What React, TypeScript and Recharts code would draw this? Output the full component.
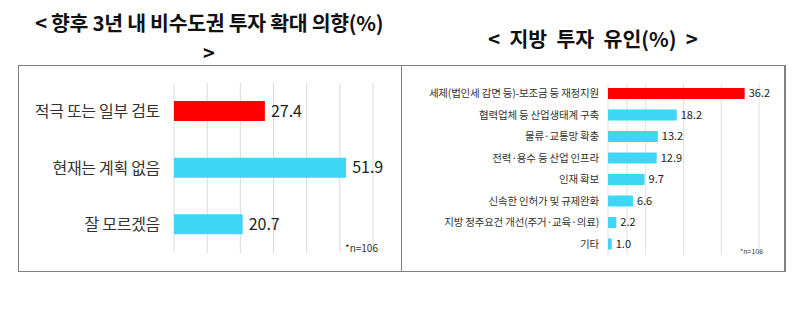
import { BarChart, Bar, XAxis, YAxis, CartesianGrid, Cell, LabelList } from "recharts";

const intentCategories = ["적극 또는 일부 검토", "현재는 계획 없음", "잘 모르겠음"];
const intentValues = [27.4, 51.9, 20.7];
const intentTicks = [0, 10, 20, 30, 40, 50, 60];

const factorCategories = [
  "세제(법인세 감면 등)-보조금 등 재정지원",
  "협력업체 등 산업생태계 구축",
  "물류·교통망 확충",
  "전력·용수 등 산업 인프라",
  "인재 확보",
  "신속한 인허가 및 규제완화",
  "지방 정주요건 개선(주거·교육·의료)",
  "기타",
];
const factorValues = [36.2, 18.2, 13.2, 12.9, 9.7, 6.6, 2.2, 1.0];
const factorTicks = [0, 5, 10, 15, 20, 25, 30, 35, 40];

const RED = "#ff0000";
const CYAN = "#3dd6f5";
const FONT = "'Noto Sans CJK KR', 'Noto Sans', sans-serif";

const intentData = intentCategories.map((name, i) => ({ name, value: intentValues[i] }));
const factorData = factorCategories.map((name, i) => ({ name, value: factorValues[i] }));

const fmt = (v: any) => Number(v).toFixed(1);

// plain single-line tick so long labels never wrap
const makeTick = (size: number, spacing: number) => (props: any) => {
  const { x, y, payload } = props;
  return (
    <text x={x} y={y} dy="0.35em" textAnchor="end" fontSize={size} fill="#333" fontFamily={FONT} letterSpacing={spacing}>
      {payload.value}
    </text>
  );
};

export default function App() {
  return (
    <div
      style={{
        position: "absolute",
        left: 0,
        top: 0,
        width: 800,
        height: 309,
        background: "#fff",
        fontFamily: FONT,
        color: "#111",
      }}
    >
      {/* titles */}
      <div style={{ position: "absolute", left: 0, width: 418, top: 8, textAlign: "center", fontSize: 20.5, fontWeight: 700, letterSpacing: -0.3, lineHeight: "28px" }}>
        {"< 향후 3년 내 비수도권 투자 확대 의향(%)"}
      </div>
      <div style={{ position: "absolute", left: 0, width: 418, top: 39, textAlign: "center", fontSize: 20, fontWeight: 700, lineHeight: "28px" }}>
        {">"}
      </div>
      <div style={{ position: "absolute", left: 401, width: 384, top: 24, textAlign: "center", fontSize: 20.5, fontWeight: 700, lineHeight: "28px", whiteSpace: "pre" }}>
        {"<  지방  투자  유인(%)  >"}
      </div>

      {/* left panel */}
      <div style={{ position: "absolute", left: 18, top: 65, width: 384, height: 207, boxSizing: "border-box", border: "1px solid #808080" }} />
      <div style={{ position: "absolute", left: 18, top: 65 }}>
        <BarChart width={383} height={206} data={intentData} layout="vertical" margin={{ top: 18, right: 28, bottom: 18, left: 0 }}>
          <CartesianGrid horizontal={false} stroke="#d9d9d9" />
          <XAxis type="number" domain={[0, 60]} ticks={intentTicks} hide />
          <YAxis
            type="category"
            dataKey="name"
            width={156}
            tickLine={false}
            axisLine={false}
            tickMargin={8}
            tick={makeTick(16, -0.3)}
          />
          <Bar dataKey="value" barSize={20} isAnimationActive={false}>
            {intentData.map((d, i) => (
              <Cell key={d.name} fill={i === 0 ? RED : CYAN} />
            ))}
            <LabelList dataKey="value" position="right" offset={6} formatter={fmt} style={{ fontSize: 16, fill: "#222", fontFamily: FONT }} />
          </Bar>
        </BarChart>
      </div>
      <div style={{ position: "absolute", left: 345, top: 240, fontSize: 10, color: "#333" }}>*n=106</div>

      {/* right panel */}
      <div style={{ position: "absolute", left: 401, top: 65, width: 385, height: 207, boxSizing: "border-box", border: "1px solid #808080", borderRightWidth: 2 }} />
      <div style={{ position: "absolute", left: 402, top: 65 }}>
        <BarChart width={382} height={206} data={factorData} layout="vertical" margin={{ top: 18, right: 25, bottom: 16, left: 0 }}>
          <CartesianGrid horizontal={false} stroke="#e0e0e0" />
          <XAxis type="number" domain={[0, 40]} ticks={factorTicks} hide />
          <YAxis
            type="category"
            dataKey="name"
            width={206}
            interval={0}
            tickLine={false}
            axisLine={false}
            tickMargin={3}
            tick={makeTick(10.5, -0.2)}
          />
          <Bar dataKey="value" barSize={11} isAnimationActive={false}>
            {factorData.map((d, i) => (
              <Cell key={d.name} fill={i === 0 ? RED : CYAN} />
            ))}
            <LabelList dataKey="value" position="right" offset={4} formatter={fmt} style={{ fontSize: 11, fill: "#222", fontFamily: FONT }} />
          </Bar>
        </BarChart>
      </div>
      <div style={{ position: "absolute", left: 740, top: 246, fontSize: 7, color: "#333" }}>*n=106</div>
    </div>
  );
}
